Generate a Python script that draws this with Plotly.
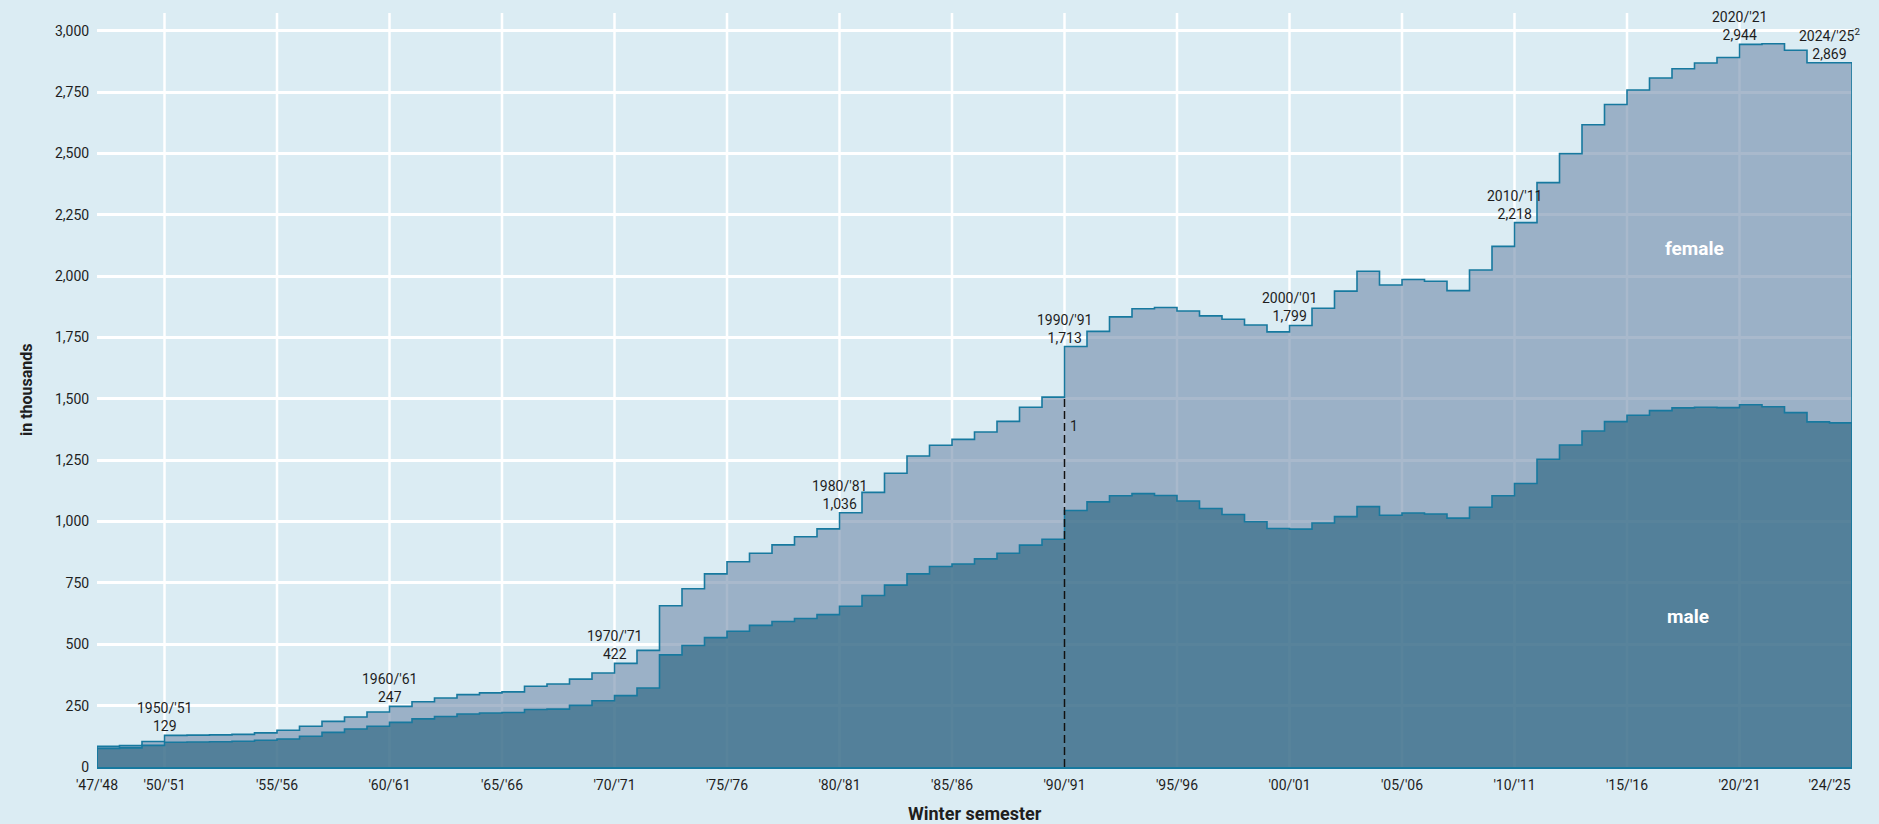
import plotly.graph_objects as go

# ---- data (thousands of students, winter semester starting year) ----
years = list(range(1947, 2025))
total = [84, 87, 104, 129, 130, 131, 133, 139, 150, 166,
         186, 204, 224, 247, 266, 281, 295, 302, 306, 329,
         338, 358, 383, 422, 475, 657, 726, 787, 836, 871,
         905, 938, 970, 1036, 1119, 1197, 1267, 1311, 1335, 1365,
         1408, 1466, 1507, 1713, 1775, 1834, 1867, 1872, 1858, 1838,
         1824, 1801, 1773, 1799, 1869, 1939, 2020, 1964, 1986, 1979,
         1941, 2025, 2121, 2218, 2381, 2499, 2617, 2699, 2758, 2807,
         2845, 2868, 2891, 2944, 2947, 2920, 2869, 2869]
male = [76, 78, 88, 101, 102, 103, 105, 109, 114, 125,
        141, 155, 166, 182, 196, 206, 216, 220, 222, 234,
        236, 251, 270, 291, 322, 457, 495, 527, 553, 577,
        593, 605, 621, 655, 699, 741, 787, 817, 827, 848,
        871, 904, 928, 1045, 1080, 1105, 1114, 1106, 1084, 1053,
        1029, 999, 972, 969, 994, 1020, 1061, 1026, 1035, 1031,
        1014, 1058, 1105, 1155, 1254, 1312, 1369, 1407, 1433, 1452,
        1463, 1466, 1464, 1476, 1468, 1444, 1406, 1402]
milestones = [1950, 1960, 1970, 1980, 1990, 2000, 2010, 2020, 2024]
footnote2_year = 2024
break_year = 1990
tick_years = [1947, 1950, 1955, 1960, 1965, 1970, 1975, 1980, 1985, 1990,
              1995, 2000, 2005, 2010, 2015, 2020, 2024]
grid_years = [1950, 1955, 1960, 1965, 1970, 1975, 1980, 1985, 1990,
              1995, 2000, 2005, 2010, 2015, 2020]
y_ticks = list(range(0, 3001, 250))

BG = "#dbecf3"
LINE = "#17799f"
TXT = "#1e1e1e"
FONT = "Roboto"


def short(y):
    return f"'{y % 100:02d}/'{(y + 1) % 100:02d}"


def step_xy(vals):
    end = years[-1] + 1
    xs = [years[0]] + years + [end, end]
    ys = [0] + vals + [vals[-1], 0]
    return xs, ys


fig = go.Figure()

mx, my = step_xy(male)
tx, ty = step_xy(total)

fig.add_trace(go.Scatter(
    x=mx, y=my, mode="lines", line=dict(shape="hv", color=LINE, width=1.6),
    fill="tozeroy", fillcolor="rgba(59,109,137,0.85)", name="male",
    hoverinfo="skip", showlegend=False))
fig.add_trace(go.Scatter(
    x=tx, y=ty, mode="lines", line=dict(shape="hv", color=LINE, width=1.6),
    fill="tonexty", fillcolor="rgba(112,139,170,0.6)", name="female",
    hoverinfo="skip", showlegend=False))

shapes = []
for g in grid_years:
    shapes.append(dict(type="line", xref="x", yref="paper", x0=g, x1=g, y0=0, y1=1,
                       line=dict(color="white", width=2.5), layer="below"))
# break line 1990
shapes.append(dict(type="line", xref="x", yref="y", x0=break_year, x1=break_year,
                   y0=0, y1=total[years.index(break_year - 1)],
                   line=dict(color="#111111", width=1.5, dash="8px,4px"), layer="above"))

annotations = []
for m in milestones:
    v = total[years.index(m)]
    label = f"{m}/'{(m + 1) % 100:02d}"
    if m == footnote2_year:
        label += "<sup>2</sup>"
    annotations.append(dict(
        x=m, y=v, xref="x", yref="y", text=f"{label}<br>{v:,}",
        showarrow=False, xanchor="center", yanchor="bottom", yshift=-1,
        font=dict(family=FONT, size=14, color=TXT)))

annotations.append(dict(x=break_year, y=1390, xref="x", yref="y", text="1",
                        showarrow=False, xanchor="left", yanchor="middle", xshift=3,
                        font=dict(family=FONT, size=14, color=TXT)))
annotations.append(dict(x=2018, y=2114, xref="x", yref="y", text="<b>female</b>",
                        showarrow=False, font=dict(family=FONT, size=19, color="white")))
annotations.append(dict(x=2017.7, y=613, xref="x", yref="y", text="<b>male</b>",
                        showarrow=False, font=dict(family=FONT, size=19, color="white")))
annotations.append(dict(x=0.5, y=0, xref="paper", yref="paper", text="<b>Winter semester</b>",
                        showarrow=False, xanchor="center", yanchor="middle", yshift=-46,
                        font=dict(family=FONT, size=18, color=TXT)))
annotations.append(dict(x=0, y=0.5, xref="paper", yref="paper", text="<b>in thousands</b>",
                        showarrow=False, xanchor="center", yanchor="middle", xshift=-71,
                        textangle=-90, font=dict(family=FONT, size=16, color=TXT)))

fig.update_layout(
    width=1879, height=824,
    margin=dict(l=97, r=27, t=13, b=57),
    paper_bgcolor=BG, plot_bgcolor=BG,
    font=dict(family=FONT, size=14, color=TXT),
    shapes=shapes, annotations=annotations,
    showlegend=False,
)
fig.update_xaxes(
    range=[years[0], years[-1] + 1], tickmode="array",
    tickvals=tick_years, ticktext=[short(y) for y in tick_years],
    showgrid=False, zeroline=False, showline=True, linecolor=LINE, linewidth=1.5,
    ticks="outside", ticklen=4, tickcolor=BG,
    tickfont=dict(family=FONT, size=14, color=TXT), fixedrange=True)
fig.update_yaxes(
    range=[0, 3072], tickmode="array", tickvals=y_ticks, tickformat=",",
    showgrid=True, gridcolor="white", gridwidth=2.5, zeroline=False, showline=False,
    ticks="outside", ticklen=4, tickcolor=BG,
    tickfont=dict(family=FONT, size=14, color=TXT), fixedrange=True)

page_fix = ("document.documentElement.style.margin='0';"
            "document.documentElement.style.overflow='hidden';"
            "document.body.style.margin='0';"
            "document.body.style.padding='0';"
            "document.body.style.overflow='hidden';"
            "document.body.style.background='" + BG + "';")

fig.write_html("out.html", post_script=page_fix, config={"displayModeBar": False})
